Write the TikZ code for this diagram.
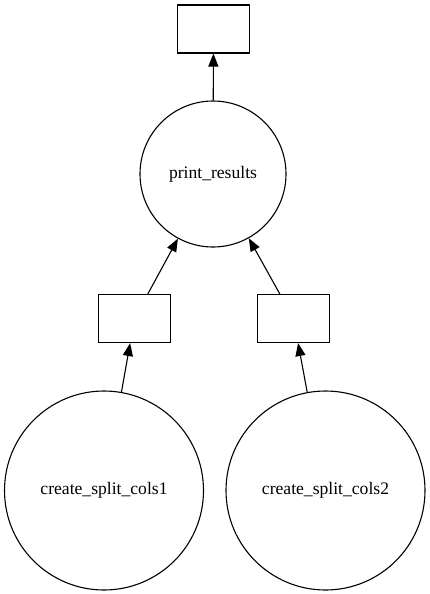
\documentclass[tikz,border=0pt]{standalone}
\usepackage{fontspec}
\setmainfont{Liberation Serif}
\usetikzlibrary{arrows.meta}

\begin{document}
\begin{tikzpicture}[x=1pt,y=-1pt,
 task/.style={circle,draw,line width=1.1pt,inner sep=0pt,font=\fontsize{17.6}{20}\selectfont},
 data/.style={rectangle,draw,line width=1.1pt,minimum width=72pt,minimum height=48pt,inner sep=0pt},
 link/.style={line width=1.1pt,-{Triangle[length=13pt,width=10pt]}}]
\useasboundingbox (0,0) rectangle (430,594);
\node[data] (out) at (213.5,29) {};
\node[task,minimum size=146pt] (pr) at (213,174) {print\_results};
\node[data] (d1) at (134.5,318.5) {};
\node[data] (d2) at (293.5,318.5) {};
\node[task,minimum size=199pt] (c1) at (104,490.5) {create\_split\_cols1};
\node[task,minimum size=199pt] (c2) at (325.5,490.5) {create\_split\_cols2};
\draw[link] (pr) -- (out);
\draw[link] (d1) -- (pr);
\draw[link] (d2) -- (pr);
\draw[link] (c1) -- (d1);
\draw[link] (c2) -- (d2);
\end{tikzpicture}
\end{document}
